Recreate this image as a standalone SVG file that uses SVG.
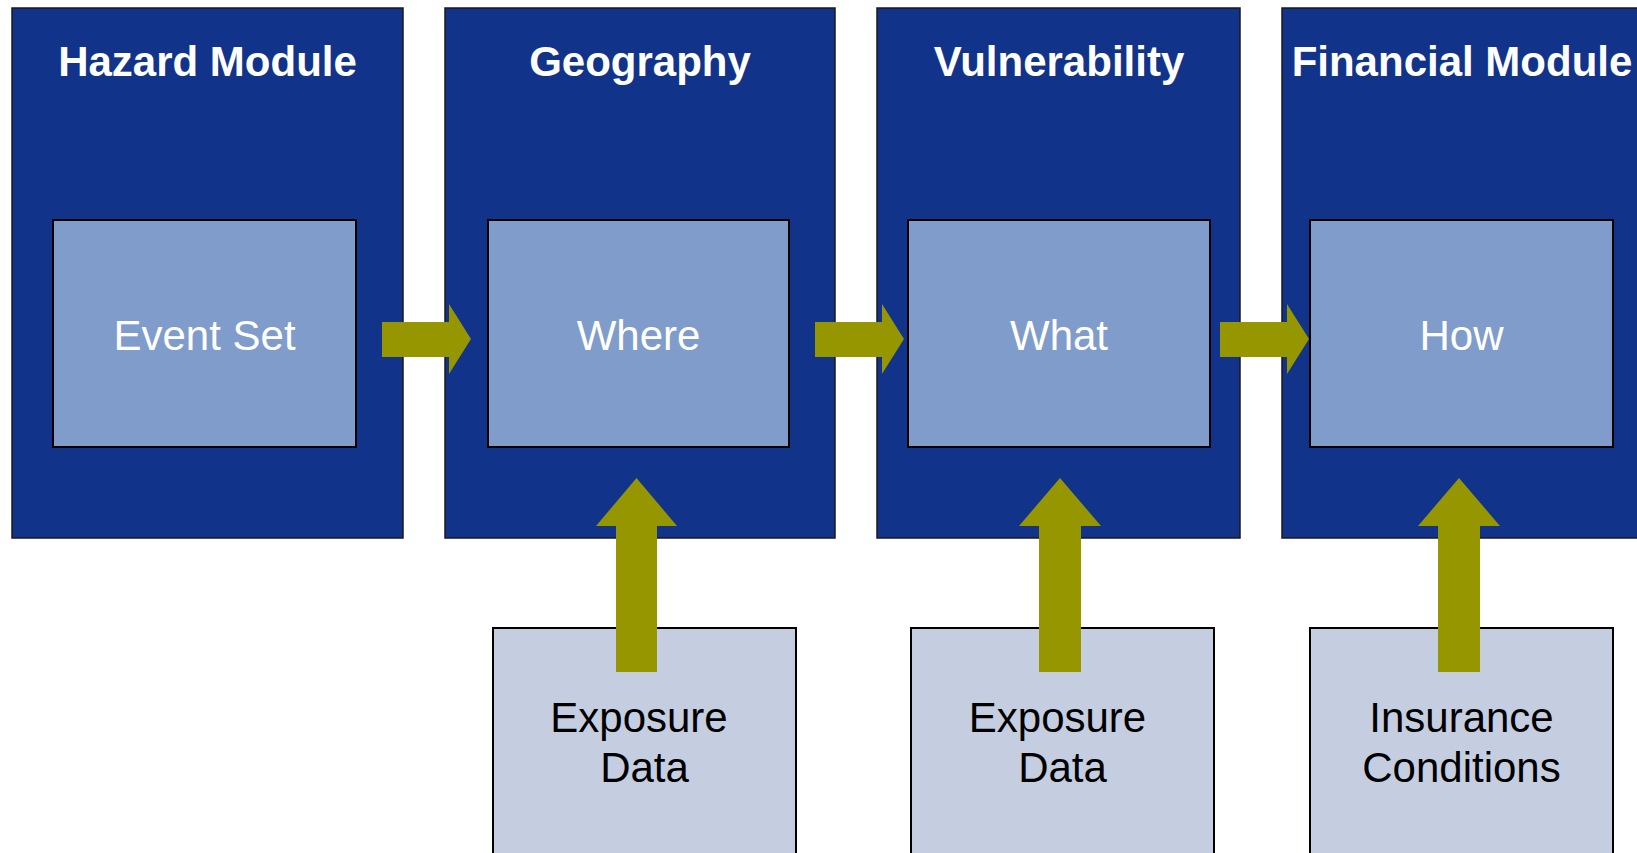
<svg xmlns="http://www.w3.org/2000/svg" width="1637" height="853" viewBox="0 0 1637 853">
<style>
.outer{fill:#12338A;stroke:#1a1a1a;stroke-width:1.5}
.inner{fill:#809CCB;stroke:#000;stroke-width:2}
.data{fill:#C5CEE1;stroke:#000;stroke-width:2}
.arrow{fill:#969600}
.title{font-family:"Liberation Sans",Arial,sans-serif;font-weight:bold;font-size:42px;fill:#fff;text-anchor:middle}
.label{font-family:"Liberation Sans",Arial,sans-serif;font-size:42px;fill:#fff;text-anchor:middle}
.dlabel{font-family:"Liberation Sans",Arial,sans-serif;font-size:42px;fill:#000;text-anchor:middle}
</style>
<rect width="1637" height="853" fill="#fff"/>
<g id="hazard">
<rect class="outer" x="12" y="8" width="391" height="530"/>
<text class="title" x="207.5" y="76">Hazard Module</text>
<rect class="inner" x="53" y="220" width="303" height="227"/>
<text class="label" x="204.5" y="350">Event Set</text>
</g>
<g id="geography">
<rect class="outer" x="445" y="8" width="390" height="530"/>
<text class="title" x="640" y="76">Geography</text>
<rect class="inner" x="488" y="220" width="301" height="227"/>
<text class="label" x="638.5" y="350">Where</text>
</g>
<g id="vulnerability">
<rect class="outer" x="877" y="8" width="363" height="530"/>
<text class="title" x="1059" y="76">Vulnerability</text>
<rect class="inner" x="908" y="220" width="302" height="227"/>
<text class="label" x="1059" y="350">What</text>
</g>
<g id="financial">
<rect class="outer" x="1282" y="8" width="362" height="530"/>
<text class="title" x="1462" y="76">Financial Module</text>
<rect class="inner" x="1310" y="220" width="303" height="227"/>
<text class="label" x="1461.5" y="350">How</text>
</g>
<g id="exposure1">
<rect class="data" x="493" y="628" width="303" height="240"/>
<text class="dlabel" x="639" y="732">Exposure</text>
<text class="dlabel" x="644.5" y="782">Data</text>
</g>
<g id="exposure2">
<rect class="data" x="911" y="628" width="303" height="240"/>
<text class="dlabel" x="1057.5" y="732">Exposure</text>
<text class="dlabel" x="1062.5" y="782">Data</text>
</g>
<g id="insurance">
<rect class="data" x="1310" y="628" width="303" height="240"/>
<text class="dlabel" x="1461.5" y="732">Insurance</text>
<text class="dlabel" x="1461.5" y="782">Conditions</text>
</g>
<g id="connectors">
<polygon class="arrow" points="382,322 449,322 449,304 471,339 449,374 449,357 382,357"/>
<polygon class="arrow" points="815,322 882,322 882,304 904,339 882,374 882,357 815,357"/>
<polygon class="arrow" points="1220,322 1287,322 1287,304 1309,339 1287,374 1287,357 1220,357"/>
<polygon class="arrow" points="616,672 616,526 596,526 636.5,478 677,526 657,526 657,672"/>
<polygon class="arrow" points="1039,672 1039,526 1019,526 1060,478 1101,526 1081,526 1081,672"/>
<polygon class="arrow" points="1438,672 1438,526 1418,526 1459,478 1500,526 1480,526 1480,672"/>
</g>
</svg>
